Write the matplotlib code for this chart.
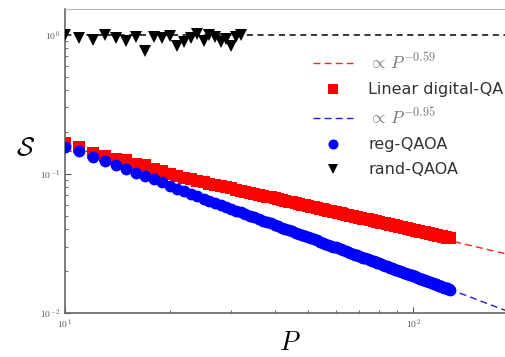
import matplotlib
matplotlib.use("Agg")
import matplotlib.pyplot as plt
from matplotlib.ticker import LogLocator, NullFormatter
import numpy as np

plt.rcParams['mathtext.fontset'] = 'cm'
plt.rcParams['font.family'] = ['DejaVu Sans']

# ---- data ----
P_lin = list(range(10, 129))
S_lin = [0.166, 0.156, 0.141, 0.135, 0.128, 0.125, 0.118, 0.115, 0.109, 0.105,
         0.0990, 0.0963, 0.0938, 0.0914, 0.0892, 0.0872, 0.0852, 0.0834, 0.0817, 0.0801,
         0.0786, 0.0771, 0.0757, 0.0744, 0.0732, 0.0720, 0.0708, 0.0697, 0.0687, 0.0677,
         0.0667, 0.0658, 0.0649, 0.0640, 0.0632, 0.0624, 0.0616, 0.0608, 0.0601, 0.0594,
         0.0587, 0.0581, 0.0574, 0.0568, 0.0562, 0.0556, 0.0551, 0.0545, 0.0540, 0.0534,
         0.0529, 0.0524, 0.0519, 0.0515, 0.0510, 0.0506, 0.0501, 0.0497, 0.0493, 0.0489,
         0.0485, 0.0481, 0.0477, 0.0473, 0.0470, 0.0466, 0.0463, 0.0459, 0.0456, 0.0453,
         0.0449, 0.0446, 0.0443, 0.0440, 0.0437, 0.0434, 0.0431, 0.0428, 0.0426, 0.0423,
         0.0420, 0.0417, 0.0415, 0.0412, 0.0410, 0.0407, 0.0405, 0.0403, 0.0400, 0.0398,
         0.0396, 0.0393, 0.0391, 0.0389, 0.0387, 0.0385, 0.0383, 0.0381, 0.0379, 0.0377,
         0.0375, 0.0373, 0.0371, 0.0369, 0.0367, 0.0365, 0.0364, 0.0362, 0.0360, 0.0358,
         0.0357, 0.0355, 0.0353, 0.0352, 0.0350, 0.0348, 0.0347, 0.0345, 0.0344]

P_reg = list(range(10, 129))
S_reg = [0.156, 0.145, 0.132, 0.123, 0.115, 0.1086, 0.1016, 0.0964, 0.0912, 0.0873,
         0.0822, 0.0781, 0.0748, 0.0718, 0.0690, 0.0665, 0.0641, 0.0619, 0.0598, 0.0579,
         0.0561, 0.0545, 0.0529, 0.0514, 0.0500, 0.0487, 0.0474, 0.0462, 0.0451, 0.0440,
         0.0430, 0.0421, 0.0411, 0.0402, 0.0394, 0.0386, 0.0378, 0.0371, 0.0363, 0.0357,
         0.0350, 0.0344, 0.0338, 0.0332, 0.0326, 0.0321, 0.0315, 0.0310, 0.0305, 0.0300,
         0.0296, 0.0291, 0.0287, 0.0283, 0.0279, 0.0275, 0.0271, 0.0267, 0.0263, 0.0260,
         0.0256, 0.0253, 0.0250, 0.0247, 0.0244, 0.0241, 0.0238, 0.0235, 0.0232, 0.0229,
         0.0227, 0.0224, 0.0221, 0.0219, 0.0217, 0.0214, 0.0212, 0.0210, 0.0208, 0.0205,
         0.0203, 0.0201, 0.0199, 0.0197, 0.0195, 0.0193, 0.0191, 0.0190, 0.0188, 0.0186,
         0.0184, 0.0183, 0.0181, 0.0179, 0.0178, 0.0176, 0.0175, 0.0173, 0.0172, 0.0170,
         0.0169, 0.0167, 0.0166, 0.0165, 0.0163, 0.0162, 0.0161, 0.0159, 0.0158, 0.0157,
         0.0156, 0.0155, 0.0153, 0.0152, 0.0151, 0.0150, 0.0149, 0.0148, 0.0147]

P_rand = list(range(10, 33))
S_rand = [0.99, 0.94, 0.91, 0.99, 0.94, 0.90, 0.96, 0.76, 0.96, 0.95, 0.975, 0.83,
          0.89, 0.95, 1.01, 0.90, 0.99, 0.96, 0.89, 0.93, 0.83, 0.96, 1.00]

fit_lin_coef, fit_lin_exp = 0.579, -0.59
fit_reg_coef, fit_reg_exp = 1.481, -0.95
fit_rand_level = 1.0
x_max = 183.7

# ---- figure ----
fig = plt.figure(figsize=(5.05, 3.57), dpi=100)
ax = fig.add_axes([65/505, 44/357, 1 - 65/505, (313 - 9)/357])

Pfit = np.geomspace(10, x_max, 200)
ax.plot(Pfit, fit_lin_coef * Pfit**fit_lin_exp, '--', color='#ff2020', lw=1.0,
        dashes=(5, 3), label=r'$\propto\,P^{-0.59}$', zorder=1)
ax.plot(P_lin, S_lin, 's', color='#ff0000', ms=8, mew=0,
        label='Linear digital-QA', zorder=2)
ax.plot(Pfit, fit_reg_coef * Pfit**fit_reg_exp, '--', color='#2020dd', lw=1.0,
        dashes=(5, 3), label=r'$\propto\,P^{-0.95}$', zorder=1)
ax.plot(P_reg, S_reg, 'o', color='#0000ff', ms=8.5, mew=0, label='reg-QAOA', zorder=3)
ax.plot([10, x_max], [fit_rand_level, fit_rand_level], '--', color='black', lw=1.1,
        dashes=(4, 3), zorder=1)
ax.plot(P_rand, S_rand, 'v', color='black', ms=8, mew=0, label='rand-QAOA', zorder=3)

ax.set_xscale('log')
ax.set_yscale('log')
ax.set_xlim(10, x_max)
ax.set_ylim(0.01, 1.53)

ax.spines['right'].set_visible(False)
ax.spines['top'].set_color('#bbbbbb')
for s in ('left', 'bottom'):
    ax.spines[s].set_color('#666666')
    ax.spines[s].set_linewidth(1.2)

for axis in (ax.xaxis, ax.yaxis):
    axis.set_minor_locator(LogLocator(base=10, subs=np.arange(2, 10), numticks=20))
    axis.set_minor_formatter(NullFormatter())

ax.tick_params(which='both', direction='in', top=False, right=False,
               color='#555555', labelcolor='#555555', labelsize=7)
ax.tick_params(which='major', length=4)
ax.tick_params(which='minor', length=2.5)
ax.set_xticks([10, 100])
ax.set_xticklabels([r'$10^1$', r'$10^2$'])
ax.set_yticks([0.01, 0.1, 1])
ax.set_yticklabels([r'$10^{-2}$', r'$10^{-1}$', r'$10^{0}$'])

fig.text(25/505, 1 - 148/357, r'$\mathcal{S}$', fontsize=19, ha='center', va='center')
fig.text(290/505, 1 - 343/357, r'$P$', fontsize=19, ha='center', va='center')

leg = ax.legend(loc='upper left', bbox_to_anchor=(313/505, 1 - 52/357),
                bbox_transform=fig.transFigure, frameon=False, fontsize=11.5,
                handlelength=2.5, handletextpad=0.95, labelspacing=0.62,
                borderpad=0, borderaxespad=0, markerscale=0.85)
texts = leg.get_texts()
for i, t in enumerate(texts):
    t.set_color('#333333')
    if i in (0, 2):
        t.set_fontsize(12.5)
        t.set_color('#777777')

fig.savefig('out.png', dpi=100)
